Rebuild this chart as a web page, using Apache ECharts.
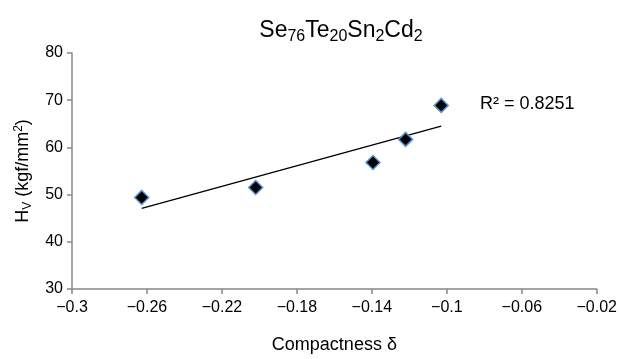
<!DOCTYPE html>
<html>
<head>
<meta charset="utf-8">
<script src="https://cdn.jsdelivr.net/npm/echarts@6/dist/echarts.min.js"></script>
<style>
  html, body { margin: 0; padding: 0; background: #fff; }
  #chart { width: 620px; height: 359px; }
</style>
</head>
<body>
<div id="chart"></div>
<script>
// data
const compactness = [-0.2628, -0.202, -0.1394, -0.122, -0.103];
const hardness = [49.4, 51.5, 56.8, 61.7, 68.9];
const xTicks = [-0.3, -0.26, -0.22, -0.18, -0.14, -0.1, -0.06, -0.02];
const rSquared = '0.8251';

// least squares trendline through the points
const n = compactness.length;
const mx = compactness.reduce((a, b) => a + b, 0) / n;
const my = hardness.reduce((a, b) => a + b, 0) / n;
let sxy = 0, sxx = 0;
for (let i = 0; i < n; i++) {
  sxy += (compactness[i] - mx) * (hardness[i] - my);
  sxx += (compactness[i] - mx) * (compactness[i] - mx);
}
const slope = sxy / sxx;
const icpt = my - slope * mx;
const x0 = Math.min(...compactness);
const x1 = Math.max(...compactness);
const trend = [[x0, icpt + slope * x0], [x1, icpt + slope * x1]];

const font = 'Liberation Sans, Arial, Helvetica, sans-serif';
const minus = (v) => String(v).replace('-', '\u2212');

const myChart = echarts.init(document.getElementById('chart'));
const option = {
  animation: false,
  textStyle: { fontFamily: font },
  title: {
    text: 'Se{s|76}Te{s|20}Sn{s|2}Cd{s|2}',
    left: 336,
    textAlign: 'center',
    top: 12,
    textStyle: {
      fontFamily: font,
      fontSize: 23,
      fontWeight: 'normal',
      color: '#000',
      lineHeight: 28,
      rich: {
        s: { fontFamily: font, fontSize: 16, color: '#000', lineHeight: 28, verticalAlign: 'bottom', padding: [10, 0, 0, 0] }
      }
    }
  },
  grid: { left: 72, right: 20, top: 53, bottom: 62 },
  xAxis: {
    type: 'value',
    min: -0.3,
    max: -0.02,
    name: 'Compactness \u03b4',
    nameLocation: 'middle',
    nameGap: 47,
    nameTextStyle: { fontFamily: font, fontSize: 18, color: '#000' },
    splitLine: { show: false },
    axisLine: { lineStyle: { color: '#888', width: 1.5 } },
    axisTick: { customValues: xTicks, length: 5, lineStyle: { color: '#888', width: 1.5 } },
    axisLabel: {
      customValues: xTicks,
      margin: 11,
      fontSize: 16,
      color: '#000',
      fontFamily: font,
      formatter: minus
    }
  },
  yAxis: {
    type: 'value',
    min: 30,
    max: 80,
    interval: 10,
    name: 'H{s|V} (kgf/mm{p|2})',
    nameLocation: 'middle',
    nameGap: 33,
    nameRotate: 90,
    nameTextStyle: {
      fontFamily: font, fontSize: 18, color: '#000', lineHeight: 22,
      rich: {
        s: { fontFamily: font, fontSize: 12, color: '#000', lineHeight: 22, padding: [9, 0, 0, 0] },
        p: { fontFamily: font, fontSize: 12, color: '#000', lineHeight: 22, padding: [0, 0, 9, 0] }
      }
    },
    splitLine: { show: false },
    axisLine: { show: true, lineStyle: { color: '#888', width: 1.5 } },
    axisTick: { show: true, length: 5, lineStyle: { color: '#888', width: 1.5 } },
    axisLabel: { margin: 9, fontSize: 16, color: '#000', fontFamily: font }
  },
  graphic: [
    {
      type: 'text',
      left: 480,
      top: 95,
      style: { text: 'R\u00b2 = ' + rSquared, font: '18px ' + font, fill: '#000' }
    }
  ],
  series: [
    {
      type: 'line',
      data: trend,
      symbol: 'none',
      lineStyle: { color: '#000', width: 1.5 },
      z: 2
    },
    {
      type: 'scatter',
      data: compactness.map((x, i) => [x, hardness[i]]),
      symbol: 'diamond',
      symbolSize: 14,
      itemStyle: { color: '#000', borderColor: '#5b8fd0', borderWidth: 1.5, opacity: 1 },
      z: 3
    }
  ]
};
option && myChart.setOption(option);
window.addEventListener('resize', myChart.resize);
</script>
</body>
</html>
